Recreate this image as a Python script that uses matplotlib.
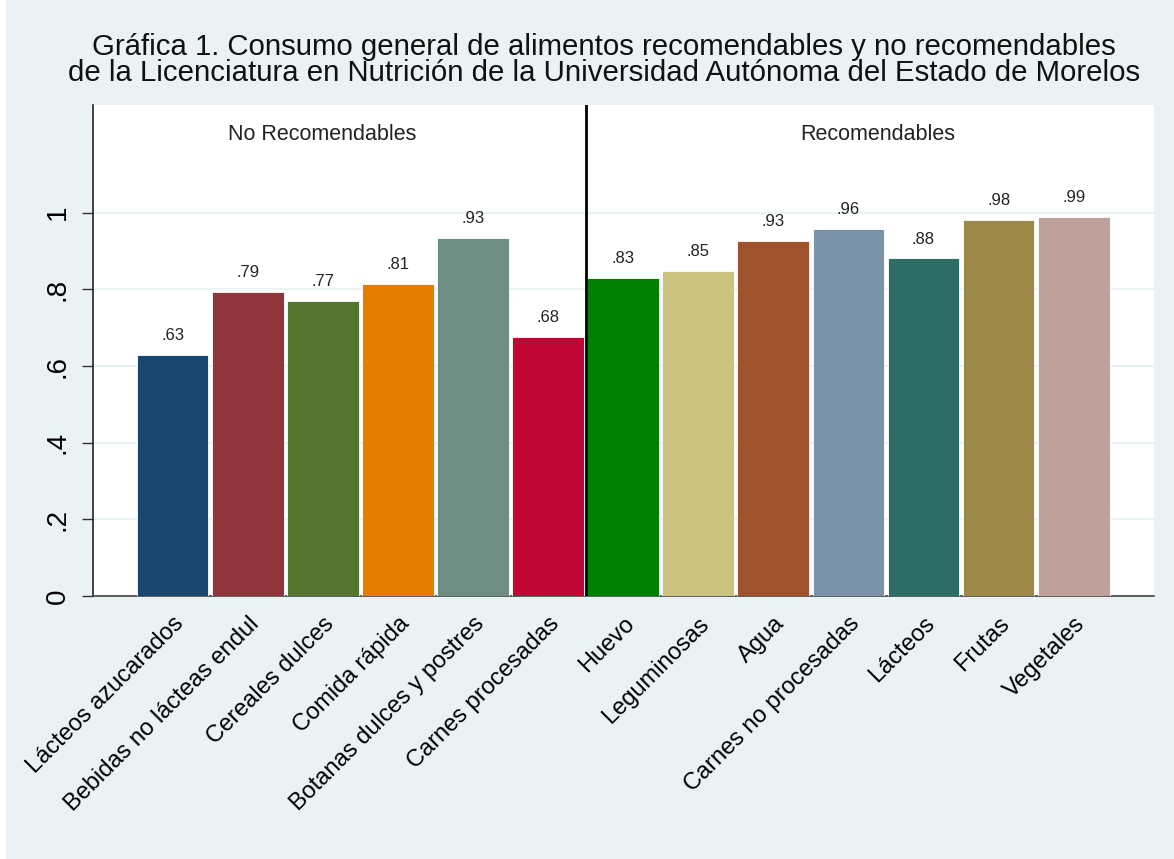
import matplotlib
matplotlib.use("Agg")
import matplotlib.pyplot as plt
import numpy as np

plt.rcParams['font.family'] = ['Liberation Sans', 'DejaVu Sans']

categories = ["Lácteos azucarados", "Bebidas no lácteas endul", "Cereales dulces",
              "Comida rápida", "Botanas dulces y postres", "Carnes procesadas",
              "Huevo", "Leguminosas", "Agua", "Carnes no procesadas", "Lácteos",
              "Frutas", "Vegetales"]
values = [0.630, 0.793, 0.769, 0.814, 0.934, 0.676,
          0.830, 0.848, 0.926, 0.957, 0.881, 0.982, 0.988]
groups = ["No Recomendables", "Recomendables"]
group_sizes = [6, 7]
colors = ["#1a476f", "#90353b", "#55752f", "#e37e00", "#6e8e84", "#c10534",
          "#008000", "#cac27e", "#a0522d", "#7b92a8", "#2d6d66", "#9c8847", "#bfa19c"]
yticks = [0, 0.2, 0.4, 0.6, 0.8, 1.0]
ytick_labels = ["0", ".2", ".4", ".6", ".8", "1"]

bg = "#eaf2f3"
fig = plt.figure(figsize=(11.74, 8.59), dpi=100, facecolor=bg)
ax = fig.add_axes([93/1174, 1-596/859, (1154-93)/1174, (596-105)/859])
ax.set_facecolor("white")

x = np.arange(len(categories))
bars = ax.bar(x, values, width=0.955, color=colors, edgecolor="white", linewidth=0.6, zorder=3)

for xi, v in zip(x, values):
    lab = f"{v:.2f}".lstrip("0")
    ax.annotate(lab, (xi, v), xytext=(0, 8.5), textcoords="offset points",
                ha="center", va="bottom", fontsize=12, color="#222222", zorder=4)

ax.set_xlim(-1.06, 13.07)
ax.set_ylim(0, 1.281)
ax.set_yticks(yticks)
ax.set_yticklabels(ytick_labels, rotation=90, va="center", fontsize=20)
ax.tick_params(axis="y", length=8, width=1.0, color="#333333", pad=8)
ax.yaxis.grid(True, color=bg, linewidth=1.6, zorder=0)
ax.set_axisbelow(True)

ax.set_xticks(x)
ax.set_xticklabels(categories, rotation=45, ha="right", va="top",
                   rotation_mode="anchor", fontsize=17)
ax.tick_params(axis="x", length=0, pad=12)

for s in ["top", "right"]:
    ax.spines[s].set_visible(False)
ax.spines["left"].set_color("#222222")
ax.spines["left"].set_linewidth(1.2)
ax.spines["bottom"].set_color("#444444")
ax.spines["bottom"].set_linewidth(1.2)

# group divider
split = group_sizes[0] - 0.5
ax.axvline(split, color="black", linewidth=2, zorder=5)

ax.text(1.99, 1.205, groups[0], ha="center", va="center", fontsize=15.5, color="#222222")
ax.text(9.39, 1.205, groups[1], ha="center", va="center", fontsize=15.5, color="#222222")

fig.text(604/1174, 1-47/859, "Gráfica 1. Consumo general de alimentos recomendables y no recomendables",
         ha="center", va="center", fontsize=21.2, color="#111111")
fig.text(604/1174, 1-73/859, "de la Licenciatura en Nutrición de la Universidad Autónoma del Estado de Morelos",
         ha="center", va="center", fontsize=21.2, color="#111111")

# thin white frame on left edge
fig.patches.append(plt.Rectangle((0, 0), 6/1174, 1, transform=fig.transFigure,
                                 facecolor="white", edgecolor="none", zorder=-1))

fig.savefig("out.png", dpi=100, facecolor=bg)
